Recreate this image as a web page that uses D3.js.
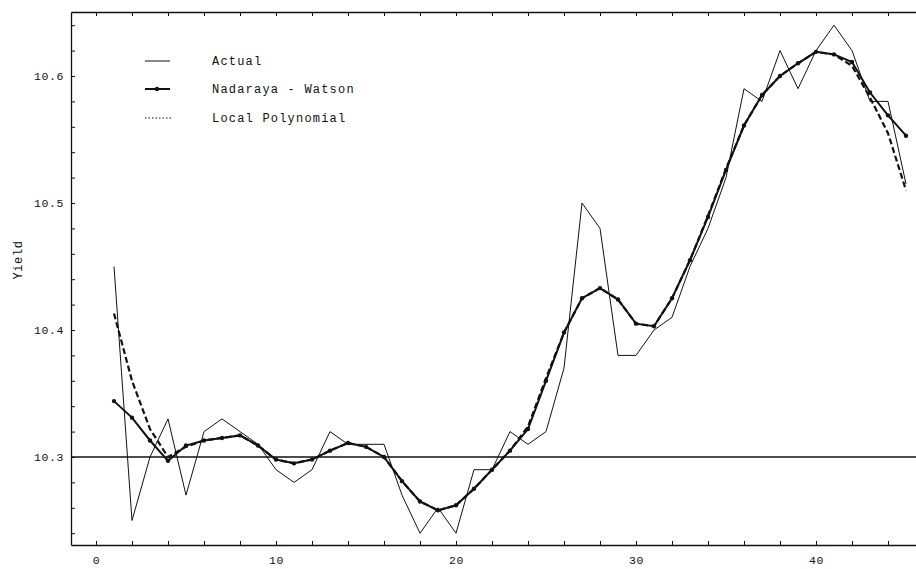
<!DOCTYPE html>
<html><head><meta charset="utf-8">
<script src="https://cdn.jsdelivr.net/npm/d3@7"></script>
<style>
body{margin:0;background:#fff}
svg{display:block}
text{font-family:"Liberation Mono","DejaVu Sans Mono",monospace;fill:#111}
</style>
</head><body><svg id="c" width="916" height="569"></svg>
<script>
const periods = [1,2,3,4,5,6,7,8,9,10,11,12,13,14,15,16,17,18,19,20,21,22,23,24,25,26,27,28,29,30,31,32,33,34,35,36,37,38,39,40,41,42,43,44,45];
const actual = [10.45,10.25,10.30,10.33,10.27,10.32,10.33,10.32,10.31,10.29,10.28,10.29,10.32,10.31,10.31,10.31,10.27,10.24,10.26,10.24,10.29,10.29,10.32,10.31,10.32,10.37,10.50,10.48,10.38,10.38,10.40,10.41,10.45,10.48,10.52,10.59,10.58,10.62,10.59,10.62,10.64,10.62,10.58,10.58,10.515];
const nadarayaWatson = [10.344,10.331,10.313,10.297,10.309,10.313,10.315,10.317,10.309,10.298,10.295,10.298,10.305,10.311,10.308,10.300,10.281,10.265,10.258,10.262,10.275,10.290,10.305,10.322,10.360,10.398,10.425,10.433,10.424,10.405,10.403,10.425,10.455,10.489,10.526,10.561,10.585,10.600,10.610,10.619,10.617,10.611,10.587,10.569,10.553];
const localPolynomial = [10.413,10.360,10.322,10.300,10.308,10.313,10.315,10.317,10.309,10.298,10.295,10.298,10.305,10.311,10.308,10.300,10.281,10.265,10.258,10.262,10.275,10.290,10.305,10.324,10.362,10.398,10.425,10.433,10.424,10.405,10.403,10.425,10.455,10.490,10.527,10.561,10.585,10.600,10.610,10.619,10.617,10.608,10.583,10.555,10.510];
const xTickLabels = [0,10,20,30,40];
const yTickLabels = [10.3,10.4,10.5,10.6];
const legendLabels = ["Actual","Nadaraya - Watson","Local Polynomial"];
const referenceLevel = 10.3;
const yAxisTitle = "Yield";

const L = 71, R = 916, T = 12, B = 545;
const x = d3.scaleLinear().domain([-25/18, 820/18]).range([L, R]);
const y = d3.scaleLinear().domain([10.3 - 88/1270, 10.6 + 64/1270]).range([B, T]);

const svg = d3.select("#c");

const xMinor = d3.range(0, 46, 2);
const yMinor = d3.range(12, 33).map(i => +(10 + i * 0.02).toFixed(2));

const fmtX = v => xTickLabels.includes(v) ? String(v) : "";
const fmtY = v => yTickLabels.some(t => Math.abs(t - v) < 1e-6) ? v.toFixed(1) : "";

const gx = svg.append("g").attr("transform", `translate(0,${B})`)
  .call(d3.axisBottom(x).tickValues(xMinor).tickSizeInner(-4).tickSizeOuter(0).tickPadding(11).tickFormat(fmtX));
const gt = svg.append("g").attr("transform", `translate(0,${T})`)
  .call(d3.axisTop(x).tickValues(xMinor).tickSizeInner(-4).tickSizeOuter(0).tickFormat(() => ""));
const gy = svg.append("g").attr("transform", `translate(${L},0)`)
  .call(d3.axisLeft(y).tickValues(yMinor).tickSizeInner(-4).tickSizeOuter(0).tickPadding(7).tickFormat(fmtY));
[gx, gt, gy].forEach(g => {
  g.selectAll("path.domain").attr("stroke", "#111").attr("stroke-width", 1.3);
  g.selectAll(".tick line").attr("stroke", "#111").attr("stroke-width", 1);
  g.selectAll("text").attr("font-size", 11.5).attr("letter-spacing", "0.6px")
    .attr("font-family", "'Liberation Mono','DejaVu Sans Mono',monospace").attr("fill", "#111");
});

svg.append("text").attr("transform", `translate(22,260) rotate(-90)`)
  .attr("text-anchor", "middle").attr("font-size", 12).attr("letter-spacing", "0.6px").text(yAxisTitle);

// reference line
svg.append("line").attr("x1", L).attr("x2", R).attr("y1", y(referenceLevel)).attr("y2", y(referenceLevel))
  .attr("stroke", "#111").attr("stroke-width", 1.3);

const line = d3.line().x((d, i) => x(periods[i])).y(d => y(d));

svg.append("path").datum(localPolynomial).attr("d", line).attr("fill", "none")
  .attr("stroke", "#111").attr("stroke-width", 2.2).attr("stroke-dasharray", "6,3");
svg.append("path").datum(actual).attr("d", line).attr("fill", "none")
  .attr("stroke", "#111").attr("stroke-width", 1);
svg.append("path").datum(nadarayaWatson).attr("d", line).attr("fill", "none")
  .attr("stroke", "#111").attr("stroke-width", 2);
svg.append("g").selectAll("circle").data(nadarayaWatson).join("circle")
  .attr("cx", (d, i) => x(periods[i])).attr("cy", d => y(d)).attr("r", 2.2).attr("fill", "#111");

// legend
const lg = svg.append("g");
const ly = [61, 89, 118];
lg.append("line").attr("x1", 145).attr("x2", 170).attr("y1", ly[0]).attr("y2", ly[0]).attr("stroke", "#111").attr("stroke-width", 1);
lg.append("line").attr("x1", 145).attr("x2", 170).attr("y1", ly[1]).attr("y2", ly[1]).attr("stroke", "#111").attr("stroke-width", 2);
lg.append("circle").attr("cx", 157).attr("cy", ly[1]).attr("r", 2.2).attr("fill", "#111");
lg.append("line").attr("x1", 145).attr("x2", 172).attr("y1", ly[2]).attr("y2", ly[2]).attr("stroke", "#111").attr("stroke-width", 1).attr("stroke-dasharray", "1.5,2");
legendLabels.forEach((t, i) => {
  lg.append("text").attr("x", 212).attr("y", ly[i] + 4).attr("font-size", 12).attr("letter-spacing", "1.2px").text(t);
});
</script>
</body></html>
